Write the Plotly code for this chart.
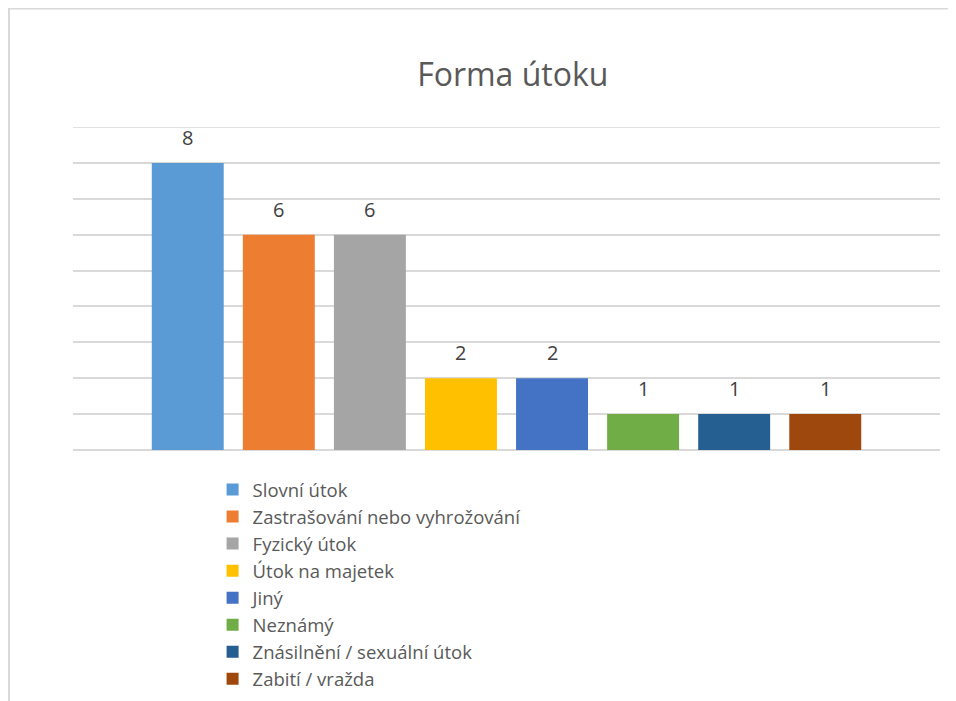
import plotly.graph_objects as go

# categories and counts
categories = ['Slovní útok', 'Zastrašování nebo vyhrožování', 'Fyzický útok',
              'Útok na majetek', 'Jiný', 'Neznámý',
              'Znásilnění / sexuální útok', 'Zabití / vražda']
counts = [8, 6, 6, 2, 2, 1, 1, 1]
colors = ['#5B9BD5', '#ED7D31', '#A5A5A5', '#FFC000',
          '#4472C4', '#70AD47', '#255E91', '#9E480E']
y_max = 9

FONT = 'Open Sans'

fig = go.Figure()
for name, val, col in zip(categories, counts, colors):
    fig.add_trace(go.Bar(
        x=[name], y=[val], name=name,
        marker=dict(color=col, line=dict(width=0)),
        width=0.79,
        hoverinfo='name+y',
    ))
    # value label above each bar
    fig.add_annotation(x=name, y=val, text=str(val), showarrow=False,
                       yanchor='bottom', yshift=10,
                       font=dict(family=FONT, size=20, color='#404040'))

# plot area in figure pixels: x 65..932, y 119..442
fig.update_layout(
    width=956, height=701,
    margin=dict(l=65, r=24, t=119, b=259, autoexpand=False),
    paper_bgcolor='white', plot_bgcolor='white',
    barmode='overlay',
    title=dict(text='Forma útoku', x=0.528, xanchor='center',
               y=0.905, yanchor='middle',
               font=dict(family=FONT, size=32, color='#595959')),
    showlegend=True,
    legend=dict(x=0.161, xanchor='left', y=-0.065, yanchor='top',
                font=dict(family=FONT, size=18.5, color='#595959'),
                traceorder='normal', itemclick=False, bgcolor='rgba(0,0,0,0)'),
    xaxis=dict(type='category', range=[-1.26, 8.26], showticklabels=False,
               showgrid=False, zeroline=False, showline=False, ticks=''),
    yaxis=dict(range=[0, y_max], dtick=1, showticklabels=False,
               showgrid=True, gridcolor='#D9D9D9', gridwidth=1.5,
               zeroline=True, zerolinecolor='#D9D9D9', zerolinewidth=1.5,
               showline=False, ticks=''),
)

# top gridline (plotly skips the one on the range edge)
fig.add_shape(type='line', xref='paper', yref='y', x0=0, x1=1, y0=y_max, y1=y_max,
              line=dict(color='#D9D9D9', width=1.5), layer='below')

# chart-area border (left and top edges visible in the picture)
def px_x(p):
    return (p - 65) / 867
def px_y(p):
    return (442 - p) / 323

fig.add_shape(type='line', xref='paper', yref='paper',
              x0=px_x(1), x1=px_x(1), y0=px_y(0), y1=px_y(705),
              line=dict(color='#D9D9D9', width=2))
fig.add_shape(type='line', xref='paper', yref='paper',
              x0=px_x(0), x1=px_x(956), y0=px_y(0.75), y1=px_y(0.75),
              line=dict(color='#D9D9D9', width=1.5))

fig.write_html("out.html")
